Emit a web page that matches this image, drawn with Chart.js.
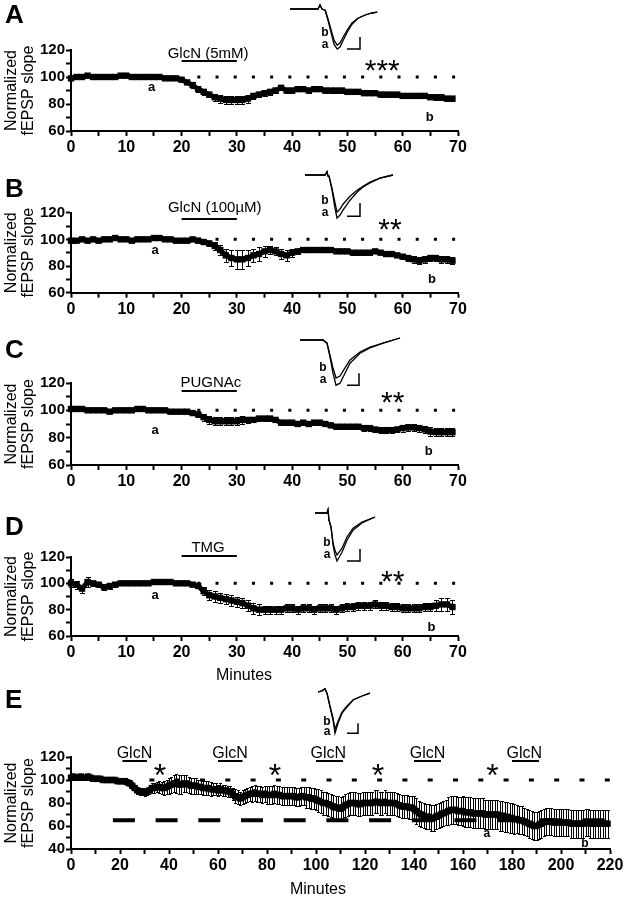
<!DOCTYPE html>
<html><head><meta charset="utf-8">
<script src="https://cdn.jsdelivr.net/npm/chart.js@4.4.0/dist/chart.umd.min.js"></script>
<style>
html,body{margin:0;padding:0;background:#fff;width:627px;height:899px;overflow:hidden;}
#wrap{position:relative;width:627px;height:899px;background:#fff;}
canvas{position:absolute;left:0;}
</style></head><body><div id="wrap"></div>
<script>
// ---------------- DATA ----------------
const minutesAD = Array.from({length:70},(_,i)=>i);      // sample times (min), panels A-D
const minutesE  = Array.from({length:220},(_,i)=>i);     // sample times (min), panel E

const xTickLabelsAD = [0,10,20,30,40,50,60,70];
const yTickLabelsAD = [60,80,100,120];
const xTickLabelsE  = [0,20,40,60,80,100,120,140,160,180,200,220];
const yTickLabelsE  = [40,60,80,100,120];

const yTitle = ['Normalized','fEPSP slope'];
const xTitle = 'Minutes';
const panelLetters = ['A','B','C','D','E'];
const drugLabels = ['GlcN (5mM)','GlcN (100\u00B5M)','PUGNAc','TMG','GlcN'];
const sigLabels  = ['***','**','**','**','*'];

const valsA = [99,100,100,101,100,100,100,100,100,101, 101,100,100,100,100,100,100,99,99,99,
  98,96,94,91,89,87,85,84,83,83, 83,83,84,86,87,88,89,90,92,90,
  90,91,91,90,91,91,90,90,90,90, 89,89,89,88,88,88,87,87,87,87,
  86,86,86,86,86,85,85,85,84,84];
const errA = [1,1,1,1,1,1,1,1,1,1, 1,1,1,1,1,1,1,1,1,1,
  1,1.5,2,2,2,2,2.5,3,3,3, 3,3,3,2.5,2,2,2,1.5,1.5,1.5,
  1.5,1.5,1.5,1.5,1.5,1.5,1.5,1.5,1.5,1.5, 1.5,1.5,1.5,1.5,1.5,1.5,1.5,1.5,1.5,1.5,
  1.5,1.5,1.5,1.5,1.5,1.5,2,2,2,2];

const valsB = [99,99,100,99,100,99,100,100,101,100, 100,99,100,100,100,101,101,100,100,99,
  99,99,100,99,98,97,95,92,88,86, 85,85,86,88,89,91,92,91,89,88,
  90,91,92,92,92,92,92,92,91,91, 91,90,90,90,90,91,90,89,89,88,
  87,86,85,84,85,86,86,85,85,84];
const errB = [1,1,1,1,1,1,1,1,1,1, 1,1,1,1,1,1,1,1,1,1,
  1,1,1,1,1.5,2,3,4,5,6, 7,7,6,5,5,4,3,3,4,4,
  3,2,1.5,1.5,1.5,1.5,1.5,1.5,1.5,1.5, 1.5,1.5,1.5,1.5,1.5,1,1,1,1.5,1.5,
  2,2,2.5,2.5,2.5,2.5,2.5,2.5,2.5,2.5];

const valsC = [101,101,101,100,100,100,100,99,100,100, 100,100,101,101,100,100,100,100,99,99,
  99,99,98,97,95,93,92,92,92,92, 92,93,93,93,94,94,94,93,91,91,
  91,90,91,90,91,91,90,89,88,88, 88,88,88,87,87,86,85.5,85.5,85.5,86,
  87,87.5,87.5,87,86,84.5,84,84,84,84];
const errC = [1,1,1,1,1,1,1,1,1,1, 1,1,1,1,1,1,1,1,1,1,
  1,1,1.5,2,2.5,3,3,3,3,3, 3,3,2,1.5,1.5,1.5,1.5,1.5,1.5,1.5,
  1.5,1.5,1.5,1.5,1.5,1.5,1.5,1.5,1.5,1.5, 2,2,2,2,2,2,2,2,2,2,
  2.5,2.5,2.5,2.5,2.5,3,3,3,3,3];

const valsD = [100,99,96,101,100,99,97,98,99,100, 100,100,100,100,100,101,101,101,101,100,
  100,100,99,98,94,91,90,89,88,87, 86,85,83,81,80,80,80,80,80,81,
  81,80,81,81,80,81,81,81,80,81, 82,82,83,83,83,84,83,83,82,82,
  81,81,81,81,82,82,83,84,84,82];
const errD = [3,3,3,4,2,2,2,2,1.5,1.5, 1,1,1,1,1,1,1,1,1,1,
  1,1,1,1.5,3,4,4,4,4,4, 4,4,4,4,4,3,3,3,3,3,
  3,3,3,3,3,3,3,3,3,3, 3,3,3,3,3,3,3,3,3,3,
  3,3,3,3,3,3,4,5,5,5];

const valsE = [102,103,102,102,103,102,102,103,102,101, 101,101,101,100,100,100,100,100,100,99,
  99,99,99,98,97,95,93,91,90,90, 89,90,91,93,93,94,94,93,93,94,
  95,96,97,97,96,96,97,97,96,95, 95,95,94,94,93,93,93,92,92,92,
  91,92,91,91,90,90,88,86,85,84, 85,86,87,88,88,89,88,88,87,88,
  87,87,87,88,87,87,86,86,86,86, 86,86,85,85,86,86,85,85,84,84,
  83,82,81,80,80,79,78,77,76,76, 75,76,78,79,80,80,80,79,79,80,
  80,80,80,80,81,81,80,80,81,80, 80,80,80,79,78,77,77,77,76,76,
  75,73,71,70,69,68,68,67,67,68, 69,70,71,72,73,74,74,74,73,73,
  73,72,72,72,71,71,71,71,71,70, 70,70,70,70,70,69,69,68,68,67,
  67,66,66,65,65,64,63,62,61,60, 60,61,62,63,64,64,64,63,63,63,
  63,63,63,63,62,62,62,62,62,62, 63,63,62,62,62,62,62,62,62,62];
const errE = [2,2,2,2,2,2,2,2,2,2, 2,2,2,2,2,2,2,2,2,2,
  2,2,2,2,3,3,3,3,3,3, 3,3,3,4,4,4,5,5,6,6,
  7,7,7,8,8,8,7,7,7,7, 7,7,6,6,6,6,6,6,5,5,
  5,5,5,5,5,5,5,6,6,6, 6,6,6,6,7,7,7,7,7,7,
  8,8,8,8,8,8,8,8,8,8, 8,8,8,8,8,8,9,9,9,9,
  9,10,10,10,10,10,10,10,10,10, 10,10,10,10,10,10,10,10,10,10,
  10,10,10,10,10,10,10,10,10,10, 10,10,10,10,10,10,10,10,10,10,
  11,11,11,11,11,11,11,11,11,11, 11,11,11,11,12,12,12,12,12,12,
  13,13,13,13,13,13,13,13,13,13, 13,13,13,13,13,13,13,13,13,13,
  13,13,12,12,12,12,12,12,12,12, 12,12,12,12,12,12,12,12,12,12,
  12,12,12,12,12,12,12,12,12,12, 12,12,12,12,12,12,12,12,12,12];

// drug application periods (min) and reference lines
const drugPeriodsAD = [[20,30]];
const drugPeriodsE  = [[21,31],[60,70],[100,111],[140,151],[180,191]];
const dottedRangeAD = [22.85,69.6];
const dottedRangeE  = [32.0,220.8];
const baselineLevel = 100;
const dashedLevelE = 65;
const dashedRangeE = [17.1,220];

// inset traces: time (ms) and voltage (mV) for sweeps a and b
const traceT_A = [0,2.5,5,7,7.5,8,8.8,9.5,10.3,11,11.8,12.5,13.3,14.3,15.5,17,18.8,20.5,21.8];
const traceA_a = [0,0,0,0,0.1,0,-0.03,-0.28,-0.6,-0.88,-1.0,-0.95,-0.78,-0.58,-0.38,-0.23,-0.15,-0.1,-0.08];
const traceA_b = [0,0,0,0,0.1,0,-0.03,-0.25,-0.53,-0.78,-0.9,-0.85,-0.7,-0.53,-0.35,-0.23,-0.15,-0.1,-0.08];
const traceT_B = [0,2.5,5,5.5,5.75,6,6.75,7.5,8,8.75,9.5,11.25,13,14.5,16.25,18.75,22];
const traceB_a = [0,0,0,0.08,-0.03,-0.03,-0.38,-0.83,-1.08,-1.0,-0.88,-0.63,-0.43,-0.3,-0.2,-0.08,0];
const traceB_b = [0,0,0,0.08,-0.03,-0.03,-0.33,-0.7,-0.93,-0.85,-0.73,-0.53,-0.38,-0.28,-0.18,-0.08,0];
const traceT_C = [0,2.5,5,5.75,6.75,7.5,8.25,9,10,10.75,12.5,15,17.5,20.75,25];
const traceC_a = [0,0,0,0,-0.08,-0.43,-0.83,-1.13,-1.08,-0.93,-0.58,-0.33,-0.2,-0.08,0.05];
const traceC_b = [0,0,0,0,-0.08,-0.38,-0.7,-0.95,-0.9,-0.78,-0.5,-0.3,-0.18,-0.08,0.05];
const traceT_D = [0,3,3.25,3.5,4,4.25,4.5,5,5.5,6.75,8,9.5,11.75,15];
const traceD_a = [0,0,0.08,-0.18,-0.35,-0.55,-0.8,-1.05,-1.2,-0.98,-0.68,-0.43,-0.25,-0.1];
const traceD_b = [0,0,0.08,-0.18,-0.35,-0.55,-0.75,-0.93,-1.05,-0.88,-0.6,-0.38,-0.23,-0.1];
const traceT_E = [0,1,1.75,2.25,3,3.75,4.25,5,6,7.25,8.75,11,13];
const traceE_a = [0,0.03,0.08,-0.03,-0.38,-0.7,-1.03,-0.78,-0.53,-0.38,-0.2,-0.1,-0.03];
const traceE_b = [0,0.03,0.08,-0.03,-0.35,-0.65,-0.93,-0.73,-0.5,-0.35,-0.2,-0.1,-0.03];

// ---------------- DRAWING ----------------
const FONT = "'Liberation Sans', Arial, Helvetica, sans-serif";
const W = 627;

function makeCanvas(left, top, w, h) {
  const c = document.createElement('canvas');
  c.width = w; c.height = h;
  c.style.left = left + 'px'; c.style.top = top + 'px';
  c.style.width = w + 'px'; c.style.height = h + 'px';
  document.getElementById('wrap').appendChild(c);
  return c;
}

const decoPlugin = {
  id: 'deco',
  beforeDatasetsDraw(chart, args, o) {
    const {ctx, scales: {x, y}} = chart;
    ctx.save();
    ctx.strokeStyle = '#000';
    ctx.lineWidth = 1;
    for (let i = 0; i < o.vals.length; i++) {
      const px = Math.round(x.getPixelForValue(o.times[i])) + 0.5;
      const y1 = Math.round(y.getPixelForValue(o.vals[i] + o.errs[i])) + 0.5;
      const y2 = Math.round(y.getPixelForValue(o.vals[i] - o.errs[i])) + 0.5;
      ctx.beginPath();
      ctx.moveTo(px, y1); ctx.lineTo(px, y2);
      ctx.moveTo(px - o.cap, y1); ctx.lineTo(px + o.cap, y1);
      ctx.moveTo(px - o.cap, y2); ctx.lineTo(px + o.cap, y2);
      ctx.stroke();
    }
    ctx.restore();
  },
  afterDraw(chart, args, o) {
    const {ctx, chartArea, scales: {x, y}} = chart;
    ctx.save();
    ctx.fillStyle = '#000'; ctx.strokeStyle = '#000';
    ctx.lineWidth = 2;
    o.bars.forEach(b => {
      const yy = Math.round(y.getPixelForValue(b.y));
      ctx.beginPath();
      ctx.moveTo(x.getPixelForValue(b.x1), yy);
      ctx.lineTo(x.getPixelForValue(b.x2), yy);
      ctx.stroke();
    });
    o.texts.forEach(t => {
      ctx.font = t.font + ' ' + FONT;
      ctx.textAlign = 'center';
      ctx.textBaseline = t.base || 'middle';
      ctx.fillText(t.s, x.getPixelForValue(t.x), y.getPixelForValue(t.y));
    });
    // y axis title
    ctx.font = '16px ' + FONT;
    ctx.textAlign = 'center'; ctx.textBaseline = 'middle';
    const cy = (chartArea.top + chartArea.bottom) / 2;
    [[yTitle[0], 12], [yTitle[1], 29]].forEach(([s, cx]) => {
      ctx.save(); ctx.translate(cx, cy); ctx.rotate(-Math.PI / 2);
      ctx.fillText(s, 0, 0); ctx.restore();
    });
    // panel letter
    ctx.font = 'bold 26px ' + FONT;
    ctx.textAlign = 'left'; ctx.textBaseline = 'alphabetic';
    ctx.fillText(o.letter, 5, o.letterY - o.top);
    if (o.xTitle) {
      ctx.font = '16px ' + FONT;
      ctx.textAlign = 'center';
      ctx.fillText(o.xTitle, x.getPixelForValue(o.xTitleX), o.xTitleY - o.top);
    }
    ctx.restore();
  }
};

function pts(xs, ys) { return xs.map((v, i) => ({x: v, y: ys[i]})); }

function makePanel(p) {
  const c = makeCanvas(0, p.top, W, p.height);
  const datasets = [
    {data: pts(p.times, p.vals), borderColor: '#000', backgroundColor: '#000', borderWidth: p.bandW,
     pointStyle: 'rect', pointRadius: 4.5, pointBorderWidth: 0, tension: 0, clip: false},
    {data: [{x: p.dotted[0], y: baselineLevel}, {x: p.dotted[1], y: baselineLevel}],
     borderColor: '#000', borderWidth: 3, borderDash: p.dotDash, pointRadius: 0, clip: false}
  ];
  if (p.dashed) datasets.push({data: [{x: dashedRangeE[0], y: dashedLevelE}, {x: dashedRangeE[1], y: dashedLevelE}],
     borderColor: '#000', borderWidth: 4, borderDash: [22, 20.7], pointRadius: 0, clip: false});
  const tickFont = (sz) => ({family: FONT, size: sz, weight: 'bold'});
  new Chart(c, {
    type: 'line',
    data: {datasets},
    options: {
      responsive: false, animation: false, events: [],
      layout: {padding: {left: 0, right: W - p.area.right, top: p.area.top - p.top, bottom: 0}},
      plugins: {legend: {display: false}, tooltip: {enabled: false},
        deco: {vals: p.vals, errs: p.errs, times: p.times, cap: p.cap, bars: p.bars, texts: p.texts,
               letter: p.letter, letterY: p.letterY, top: p.top, xTitle: p.xTitle, xTitleX: p.xTitleX, xTitleY: p.xTitleY}},
      scales: {
        x: {type: 'linear', min: 0, max: p.xMax,
            afterFit(s) { s.height = p.top + p.height - p.area.bottom; s.paddingLeft = 0; s.paddingRight = 0; },
            border: {color: '#000', width: 2},
            grid: {drawOnChartArea: false, drawTicks: true, tickLength: 5, tickColor: '#000', tickWidth: 2},
            ticks: {stepSize: p.xStep, autoSkip: false, maxRotation: 0, minRotation: 0, padding: 2, color: '#000',
                    font: tickFont(16), callback: v => p.xLabels.includes(v) ? String(v) : ''}},
        y: {type: 'linear', min: p.yMin, max: p.yMax,
            afterFit(s) { s.width = p.area.left; s.paddingTop = 0; s.paddingBottom = 0; },
            border: {color: '#000', width: 2},
            grid: {drawOnChartArea: false, drawTicks: true, tickLength: 5, tickColor: '#000', tickWidth: 2},
            ticks: {stepSize: 10, autoSkip: false, padding: 1, color: '#000',
                    font: tickFont(15), callback: v => p.yLabels.includes(v) ? String(v) : ''}}
      }
    },
    plugins: [decoPlugin]
  });
}

const fs = '15px', fsSig = '30px', fsAB = 'bold 13px';
const panels = [
  {letter: panelLetters[0], top: 0, height: 170, area: {top: 50, bottom: 131, left: 71, right: 458}, letterY: 23,
   times: minutesAD, vals: valsA, errs: errA},
  {letter: panelLetters[1], top: 165, height: 165, area: {top: 212.7, bottom: 292.7, left: 71, right: 458}, letterY: 197,
   times: minutesAD, vals: valsB, errs: errB},
  {letter: panelLetters[2], top: 325, height: 175, area: {top: 383, bottom: 465, left: 71, right: 458}, letterY: 358,
   times: minutesAD, vals: valsC, errs: errC},
  {letter: panelLetters[3], top: 495, height: 195, area: {top: 557, bottom: 636, left: 71, right: 458}, letterY: 535,
   times: minutesAD, vals: valsD, errs: errD, xTitle: xTitle, xTitleX: 31.3, xTitleY: 680},
  {letter: panelLetters[4], top: 690, height: 209, area: {top: 757, bottom: 849, left: 71, right: 610}, letterY: 708,
   times: minutesE, vals: valsE, errs: errE, xTitle: xTitle, xTitleX: 100.8, xTitleY: 894}
];
// annotation placement per panel (data units)
const drugTextPos = [[24.8,117.3],[26,124],[25.3,120.1],[24.8,126.6]];
const drugBarY = [112,115,114,120.5];
const sigPos = [[56.3,97.8],[57.7,100],[58.2,98.5],[58.2,93.9]];
const aPos = [[14.6,92.2],[15.2,92],[15.2,85.3],[15.2,90.9]];
const bPos = [[64.9,70.4],[65.3,70],[64.7,70],[65.2,66.8]];
for (let i = 0; i < 4; i++) {
  Object.assign(panels[i], {xMax: 70, yMin: 60, yMax: 120, xStep: 5, xLabels: xTickLabelsAD, yLabels: yTickLabelsAD,
    cap: 2.5, bandW: 5, dotted: dottedRangeAD, dotDash: [3, 15.2],
    bars: drugPeriodsAD.map(d => ({x1: d[0], x2: d[1], y: drugBarY[i]})),
    texts: [
      {s: drugLabels[i], x: drugTextPos[i][0], y: drugTextPos[i][1], font: fs},
      {s: sigLabels[i], x: sigPos[i][0], y: sigPos[i][1], font: fsSig, base: 'alphabetic'},
      {s: 'a', x: aPos[i][0], y: aPos[i][1], font: fsAB},
      {s: 'b', x: bPos[i][0], y: bPos[i][1], font: fsAB}
    ]});
}
const glcnTextX = [25.9,64.9,105,145.5,185];
const sigXE = [36.3,83.3,125.3,172];
Object.assign(panels[4], {xMax: 220, yMin: 40, yMax: 120, xStep: 10, xLabels: xTickLabelsE, yLabels: yTickLabelsE,
  cap: 1.5, bandW: 6, dotted: dottedRangeE, dotDash: [5, 20.3], dashed: true,
  bars: drugPeriodsE.map(d => ({x1: d[0], x2: d[1], y: 116.5})),
  texts: [
    ...glcnTextX.map(xx => ({s: drugLabels[4], x: xx, y: 122.6, font: '16px'})),
    ...sigXE.map(xx => ({s: sigLabels[4], x: xx, y: 95, font: '32px', base: 'alphabetic'})),
    {s: 'a', x: 169.7, y: 53, font: 'bold 12px'},
    {s: 'b', x: 209.8, y: 44.3, font: 'bold 12px'}
  ]});
panels.forEach(makePanel);

// ---------------- INSETS ----------------
const insetPlugin = {
  id: 'insetDeco',
  afterDatasetsDraw(chart, args, o) {
    const {ctx, scales: {x, y}} = chart;
    ctx.save();
    ctx.fillStyle = '#000';
    ctx.font = 'bold 12px ' + FONT;
    ctx.textAlign = 'center'; ctx.textBaseline = 'middle';
    o.labels.forEach(l => ctx.fillText(l.s, x.getPixelForValue(l.t), y.getPixelForValue(l.v)));
    ctx.restore();
  }
};
const PX_MS = 4, PX_MV = 40;
const insets = [
  {box: [280, 0, 105, 56], x0: 290, y0: 9, t: traceT_A, a: traceA_a, b: traceA_b,
   bar: {vx: 17.5, hx: 14.25, v1: -0.7, v2: -1.0}, la: [8.75, -0.88], lb: [8.75, -0.58]},
  {box: [295, 165, 105, 58], x0: 305, y0: 175, t: traceT_B, a: traceB_a, b: traceB_b,
   bar: {vx: 13.75, hx: 10.5, v1: -0.7, v2: -1.03}, la: [5, -0.95], lb: [5, -0.65]},
  {box: [290, 330, 115, 60], x0: 300, y0: 340, t: traceT_C, a: traceC_a, b: traceC_b,
   bar: {vx: 14.75, hx: 11.75, v1: -0.83, v2: -1.13}, la: [5.75, -0.98], lb: [5.75, -0.7]},
  {box: [305, 500, 75, 66], x0: 315, y0: 513, t: traceT_D, a: traceD_a, b: traceD_b,
   bar: {vx: 11.25, hx: 8, v1: -0.9, v2: -1.2}, la: [3, -1.03], lb: [3, -0.75]},
  {box: [308, 682, 66, 56], x0: 318, y0: 692, t: traceT_E, a: traceE_a, b: traceE_b,
   bar: {vx: 10, hx: 7.25, v1: -0.78, v2: -1.03}, la: [2.25, -0.98], lb: [2.25, -0.75]}
];
insets.forEach(ins => {
  const [l, t, w, h] = ins.box;
  const c = makeCanvas(l, t, w, h);
  const line = (data, bw) => ({data, borderColor: '#000', borderWidth: bw, pointRadius: 0, tension: 0, clip: false, fill: false});
  new Chart(c, {
    type: 'line',
    data: {datasets: [
      line(pts(ins.t, ins.a), 1.3),
      line(pts(ins.t, ins.b), 1.3),
      line([{x: ins.bar.hx, y: ins.bar.v2}, {x: ins.bar.vx, y: ins.bar.v2}, {x: ins.bar.vx, y: ins.bar.v1}], 1.5)
    ]},
    options: {
      responsive: false, animation: false, events: [],
      layout: {padding: 0},
      plugins: {legend: {display: false}, tooltip: {enabled: false},
        insetDeco: {labels: [{s: 'b', t: ins.lb[0], v: ins.lb[1]}, {s: 'a', t: ins.la[0], v: ins.la[1]}]}},
      scales: {
        x: {type: 'linear', display: false, min: (l - ins.x0) / PX_MS, max: (l + w - ins.x0) / PX_MS},
        y: {type: 'linear', display: false, min: (ins.y0 - t - h) / PX_MV, max: (ins.y0 - t) / PX_MV}
      }
    },
    plugins: [insetPlugin]
  });
});
</script></body></html>
